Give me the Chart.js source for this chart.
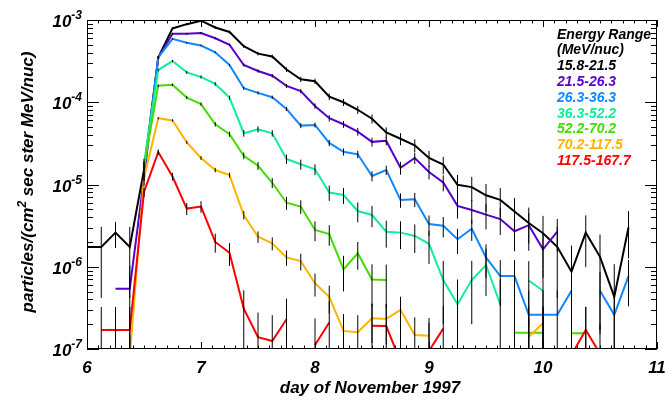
<!DOCTYPE html>
<html>
<head>
<meta charset="utf-8">
<script src="https://cdn.jsdelivr.net/npm/chart.js@4.4.1/dist/chart.umd.min.js"></script>
<style>
  html, body { margin: 0; padding: 0; background: #fff; }
</style>
</head>
<body>
<canvas id="fluxChart" width="666" height="401"></canvas>
<script>
// time of each 3-hour sample (day of November 1997)
const days = [6, 6.125, 6.25, 6.375, 6.5, 6.625, 6.75, 6.875, 7, 7.125, 7.25, 7.375, 7.5, 7.625,
  7.75, 7.875, 8, 8.125, 8.25, 8.375, 8.5, 8.625, 8.75, 8.875, 9, 9.125, 9.25, 9.375, 9.5, 9.625,
  9.75, 9.875, 10, 10.125, 10.25, 10.375, 10.5, 10.625, 10.75];

// intensities, particles/(cm2 sec ster MeV/nuc), one array per energy channel
const ch1 = [1.74e-6, 1.74e-6, 2.6e-6, 1.74e-6, 1.5e-5, 3.5e-4, 7.9e-4, 8.9e-4, 9.8e-4, 8.1e-4, 7.15e-4, 4.8e-4, 3.9e-4, 3.6e-4,
  2.5e-4, 1.9e-4, 1.8e-4, 1.17e-4, 1.0e-4, 8.1e-5, 6.3e-5, 4.3e-5, 3.6e-5, 3.0e-5, 2.1e-5, 1.75e-5, 9.9e-6, 9.3e-6, 7.4e-6, 6.5e-6,
  4.7e-6, 3.4e-6, 2.55e-6, 1.75e-6, 8.7e-7, 2.6e-6, 1.32e-6, 4.3e-7, 3.0e-6];
const ch2 = [null, null, 5.4e-7, 5.4e-7, 1.2e-5, 3.5e-4, 6.8e-4, 6.8e-4, 6.95e-4, 6.0e-4, 5.0e-4, 2.84e-4, 2.4e-4, 2.1e-4,
  1.58e-4, 1.37e-4, 9.0e-5, 6.4e-5, 5.4e-5, 4.4e-5, 3.3e-5, 3.4e-5, 1.6e-5, 2.1e-5, 1.42e-5, 1.06e-5, 5.5e-6, 4.9e-6, 4.3e-6, 3.8e-6,
  2.7e-6, 3.2e-6, 1.63e-6, 2.67e-6, null, null, null, null, null];
const ch3 = [null, null, null, null, 1.42e-5, 3.5e-4, 5.9e-4, 5.3e-4, 4.9e-4, 4.05e-4, 2.84e-4, 1.48e-4, 1.3e-4, 1.15e-4,
  8.3e-5, 5.2e-5, 5.3e-5, 3.2e-5, 2.5e-5, 2.33e-5, 1.27e-5, 1.5e-5, 6.5e-6, 6.6e-6, 3.3e-6, 3.15e-6, 2.16e-6, 2.9e-6, 1.3e-6, 7.7e-7,
  7.7e-7, 2.6e-7, 2.6e-7, 2.6e-7, 5.1e-7, null, 5.1e-7, 2.6e-7, 7.7e-7];
const ch4 = [null, null, null, null, 1.8e-5, 2.47e-4, 3.17e-4, 2.31e-4, 2.03e-4, 1.67e-4, 1.14e-4, 4.2e-5, 4.7e-5, 4.2e-5,
  2.04e-5, 1.76e-5, 1.53e-5, 8.0e-6, 7.45e-6, 4.76e-6, 4.26e-6, 2.67e-6, 2.6e-6, 2.37e-6, 1.9e-6, 6.9e-7, 3.5e-7, 6.9e-7, 1.05e-6, 3.5e-7,
  null, 6.8e-7, 5.1e-7, null, null, null, null, null, null];
const ch5 = [null, null, null, null, 1.68e-5, 1.59e-4, 1.63e-4, 1.14e-4, 9.5e-5, 5.4e-5, 4.1e-5, 2.24e-5, 1.69e-5, 1.05e-5,
  6.0e-6, 5.4e-6, 2.8e-6, 2.5e-6, 9.3e-7, 1.46e-6, 7.0e-7, 6.9e-7, null, null, null, null, null, null, null, null,
  1.58e-7, 1.58e-7, 1.58e-7, null, 1.55e-7, 1.55e-7, null, null, null];
const ch6 = [null, null, null, 8e-8, 1.2e-5, 6.4e-5, 6.0e-5, 3.26e-5, 2.1e-5, 1.5e-5, 1.3e-5, 4.26e-6, 2.32e-6, 1.93e-6,
  1.3e-6, 1.17e-6, 6.3e-7, 4.3e-7, 1.66e-7, 1.6e-7, 2.36e-7, 2.32e-7, 2.98e-7, 1.48e-7, 1.45e-7, null, null, null, null, null,
  null, 1.41e-7, 2.06e-7, null, null, null, null, null, null];
const ch7 = [null, 1.7e-7, 1.7e-7, 1.7e-7, 8.1e-6, 2.48e-5, 1.25e-5, 5.1e-6, 5.4e-6, 2.0e-6, 1.48e-6, 3.1e-7, 1.39e-7, 1.25e-7,
  2.3e-7, null, 1.12e-7, 2.1e-7, null, null, 1.92e-7, 1.9e-7, 7e-8, null, 9.5e-8, 1.77e-7, null, null, null, null,
  null, null, null, null, 8.5e-8, 1.7e-7, 8.8e-8, null, null];

// relative 1-sigma uncertainties, same layout
const err1 = [0.76, 0.76, 0.35, 0.76, 0.26, 0.053, 0.036, 0.034, 0.032, 0.035, 0.037, 0.046, 0.051, 0.053,
  0.063, 0.073, 0.075, 0.092, 0.1, 0.11, 0.126, 0.15, 0.167, 0.18, 0.22, 0.24, 0.32, 0.33, 0.37, 0.39,
  0.46, 0.54, 0.63, 0.76, 1.07, 0.62, 0.87, 1.5, 0.58];
const err2 = [null, null, 0, 0.9, 0.2, 0.038, 0.027, 0.027, 0.027, 0.029, 0.032, 0.042, 0.046, 0.049,
  0.056, 0.06, 0.075, 0.088, 0.096, 0.107, 0.123, 0.121, 0.177, 0.154, 0.188, 0.22, 0.3, 0.32, 0.34, 0.36,
  0.43, 0.4, 0.55, 0.43, null, null, null, null, null];
const err3 = [null, null, null, null, 0.13, 0.027, 0.021, 0.022, 0.023, 0.025, 0.03, 0.041, 0.044, 0.047,
  0.055, 0.069, 0.069, 0.088, 0.1, 0.104, 0.14, 0.13, 0.2, 0.195, 0.275, 0.28, 0.34, 0.29, 0.44, 0.57,
  0.57, 0.98, 0.98, 0.98, 0.7, null, 0.7, 0.98, 0.57];
const err4 = [null, null, null, null, 0.14, 0.038, 0.033, 0.039, 0.042, 0.046, 0.055, 0.091, 0.086, 0.091,
  0.13, 0.14, 0.15, 0.21, 0.22, 0.27, 0.29, 0.36, 0.37, 0.38, 0.43, 0.71, 1.0, 0.71, 0.58, 1.0,
  null, 0.72, 0.83, null, null, null, null, null, null];
const err5 = [null, null, null, null, 0.11, 0.035, 0.035, 0.042, 0.046, 0.061, 0.07, 0.094, 0.11, 0.14,
  0.18, 0.19, 0.27, 0.28, 0.46, 0.37, 0.53, 0.54, null, null, null, null, null, null, null, null,
  1.1, 1.1, 1.1, null, 1.1, 1.1, null, null, null];
const err6 = [null, null, null, 0.87, 0.07, 0.031, 0.032, 0.043, 0.053, 0.063, 0.068, 0.12, 0.16, 0.18,
  0.21, 0.23, 0.31, 0.37, 0.6, 0.61, 0.5, 0.51, 0.45, 0.64, 0.64, null, null, null, null, null,
  null, 0.65, 0.54, null, null, null, null, null, null];
const err7 = [null, 0.91, 0.91, 0.91, 0.13, 0.075, 0.106, 0.166, 0.16, 0.26, 0.31, 0.67, 1.0, 1.06,
  0.78, null, 1.1, 0.82, null, null, 0.85, 0.86, 1.4, null, 1.2, 0.89, null, null, null, null,
  null, null, null, null, 1.3, 0.91, 1.26, null, null];

const channelNames = ['15.8-21.5', '21.5-26.3', '26.3-36.3', '36.3-52.2', '52.2-70.2', '70.2-117.5', '117.5-167.7'];
const channelColors = ['#000000', '#5500cc', '#1188ff', '#11ee99', '#44dd00', '#ffb400', '#ff0000'];
const legendTitle = ['Energy Range', '(MeV/nuc)'];

const xTicks = [6, 7, 8, 9, 10, 11];
const yTicks = [1e-7, 1e-6, 1e-5, 1e-4, 1e-3];
const yTickExp = ['-7', '-6', '-5', '-4', '-3'];

const series = [ch1, ch2, ch3, ch4, ch5, ch6, ch7];
const errors = [err1, err2, err3, err4, err5, err6, err7];

const bigFont = 'italic bold 17px "Liberation Sans", Arial, sans-serif';
const supFont = 'italic bold 12px "Liberation Sans", Arial, sans-serif';
const legFont = 'italic bold 14px "Liberation Sans", Arial, sans-serif';

// error bars on top of the lines
const errorBars = {
  id: 'errorBars',
  afterDatasetsDraw(chart) {
    const { ctx, chartArea: a } = chart;
    const xs = chart.scales.x, ys = chart.scales.y;
    ctx.save();
    ctx.beginPath();
    ctx.rect(a.left, a.top, a.right - a.left, a.bottom - a.top);
    ctx.clip();
    ctx.strokeStyle = '#000';
    ctx.lineWidth = 1;
    series.forEach((vals, s) => {
      vals.forEach((v, i) => {
        const e = errors[s][i];
        if (v == null || !e) return;
        const px = xs.getPixelForValue(days[i]);
        const top = ys.getPixelForValue(v * (1 + e));
        const bot = v * (1 - e) > 0 ? ys.getPixelForValue(v * (1 - e)) : a.bottom + 2;
        ctx.beginPath();
        ctx.moveTo(px, top);
        ctx.lineTo(px, bot);
        ctx.stroke();
      });
    });
    ctx.restore();
  }
};

// IDL style box: inward ticks on all four sides, labels, titles, legend
const axesBox = {
  id: 'axesBox',
  afterDraw(chart) {
    const { ctx, chartArea: a } = chart;
    const xs = chart.scales.x, ys = chart.scales.y;
    ctx.save();
    ctx.strokeStyle = '#000';
    ctx.lineWidth = 1;
    ctx.strokeRect(a.left + 0.5, a.top + 0.5, a.right - a.left - 1, a.bottom - a.top - 1);

    ctx.beginPath();
    for (let d = -7; d <= -3; d++) {
      for (let m = 1; m <= 9; m++) {
        if (d === -3 && m > 1) break;
        const py = Math.round(ys.getPixelForValue(m * Math.pow(10, d))) + 0.5;
        const len = m === 1 ? 12 : 6;
        ctx.moveTo(a.left, py); ctx.lineTo(a.left + len, py);
        ctx.moveTo(a.right, py); ctx.lineTo(a.right - len, py);
      }
    }
    for (let t = 60; t <= 110; t++) {
      const px = Math.round(xs.getPixelForValue(t / 10)) + 0.5;
      const len = t % 10 === 0 ? 7 : 3.5;
      ctx.moveTo(px, a.bottom); ctx.lineTo(px, a.bottom - len);
      ctx.moveTo(px, a.top); ctx.lineTo(px, a.top + len);
    }
    ctx.stroke();

    ctx.fillStyle = '#000';
    // x tick labels
    ctx.font = bigFont;
    ctx.textAlign = 'center';
    ctx.textBaseline = 'alphabetic';
    xTicks.forEach(t => ctx.fillText(String(t), xs.getPixelForValue(t), 373));

    // y tick labels: 10 with raised exponent
    yTicks.forEach((t, i) => {
      const py = ys.getPixelForValue(t);
      ctx.font = supFont;
      const we = ctx.measureText(yTickExp[i]).width;
      ctx.textAlign = 'left';
      ctx.fillText(yTickExp[i], 82 - we, py - 1);
      ctx.font = bigFont;
      ctx.textAlign = 'right';
      ctx.fillText('10', 82 - we, py + 7);
    });

    // x title
    ctx.font = bigFont;
    ctx.textAlign = 'center';
    ctx.fillText('day of November 1997', 370, 393);

    // y title, rotated, with superscript 2
    ctx.save();
    ctx.translate(33, 182);
    ctx.rotate(-Math.PI / 2);
    const p1 = 'particles/(cm', p2 = '2', p3 = ' sec ster MeV/nuc)';
    ctx.font = bigFont;
    const w1 = ctx.measureText(p1).width, w3 = ctx.measureText(p3).width;
    ctx.font = supFont;
    const w2 = ctx.measureText(p2).width;
    let cx = -(w1 + w2 + w3) / 2;
    ctx.textAlign = 'left';
    ctx.font = bigFont;
    ctx.fillText(p1, cx, 0);
    cx += w1;
    ctx.font = supFont;
    ctx.fillText(p2, cx, -7);
    cx += w2;
    ctx.font = bigFont;
    ctx.fillText(p3, cx, 0);
    ctx.restore();

    // legend
    ctx.font = legFont;
    ctx.textAlign = 'left';
    let ly = 38.5;
    legendTitle.forEach(t => { ctx.fillStyle = '#000'; ctx.fillText(t, 557, ly); ly += 15.8; });
    channelNames.forEach((t, i) => { ctx.fillStyle = channelColors[i]; ctx.fillText(t, 557, ly); ly += 15.8; });
    ctx.restore();
  }
};

const ctx = document.getElementById('fluxChart');

new Chart(ctx, {
  type: 'line',
  data: {
    datasets: series.map((vals, s) => ({
      label: channelNames[s],
      data: vals.map((v, i) => ({ x: days[i], y: v })),
      borderColor: channelColors[s],
      borderWidth: 2,
      pointRadius: 0,
      tension: 0,
      spanGaps: false,
      fill: false
    })).reverse()
  },
  options: {
    responsive: false,
    animation: false,
    devicePixelRatio: 1,
    layout: { padding: { left: 87, top: 20, right: 9, bottom: 52 } },
    plugins: {
      legend: { display: false },
      tooltip: { enabled: false }
    },
    scales: {
      x: { type: 'linear', min: 6, max: 11, display: false },
      y: { type: 'logarithmic', min: 1e-7, max: 1e-3, display: false }
    }
  },
  plugins: [errorBars, axesBox]
});
</script>
</body>
</html>
